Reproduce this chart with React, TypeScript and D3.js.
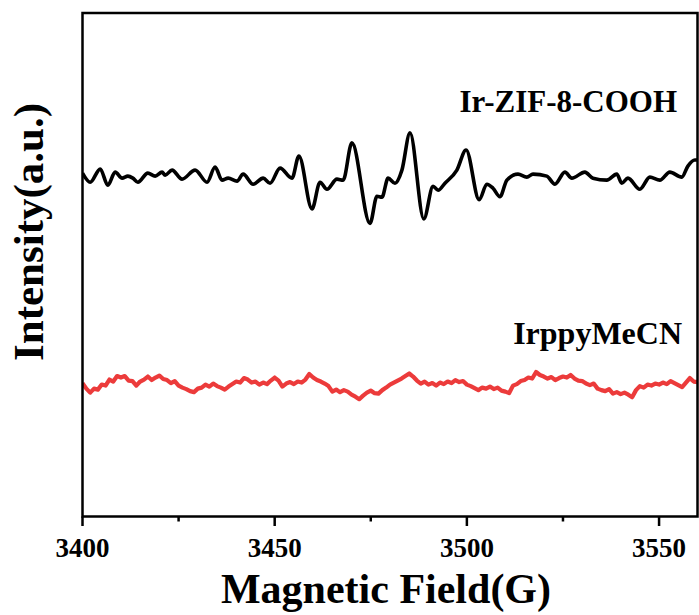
import React from "react";
import * as d3 from "d3";

const W = 699;
const H = 615;

// Ir-ZIF-8-COOH trace: [field (G), intensity (a.u.)]
const fieldBlack = [3400, 3402, 3404.6, 3406.6, 3408.5, 3410.3, 3411.8, 3413.1, 3414.4, 3417, 3418.9, 3420.7, 3421.5, 3423.3, 3425.9, 3429.3, 3432.4, 3434.5, 3436.3, 3437.9, 3440.2, 3441.8, 3444.4, 3447, 3448.8, 3451.4, 3454.5, 3456.3, 3459.7, 3461.8, 3463.6, 3466.2, 3467.8, 3470.1, 3474.8, 3476.6, 3477.9, 3479.5, 3481.3, 3483.1, 3485.2, 3488.8, 3491.2, 3492.5, 3494.3, 3497.4, 3499.8, 3503.2, 3505.2, 3506.8, 3508.6, 3510.4, 3513.3, 3515.6, 3517.2, 3520.8, 3522.9, 3525.5, 3527.3, 3530.7, 3532.8, 3536.4, 3539, 3540.3, 3541.9, 3545, 3547.6, 3550.2, 3552.8, 3555.9, 3557.5, 3559.3, 3560];
const intensityBlack = [68.2, 66.4, 69.0, 65.8, 68.4, 67.2, 67.6, 67.2, 66.4, 68.2, 67.6, 68.4, 67.8, 68.8, 67.0, 68.8, 66.4, 69.4, 66.8, 67.2, 66.6, 68.0, 66.0, 67.2, 66.2, 69.2, 67.2, 71.6, 61.1, 66.4, 65.0, 67.0, 66.8, 74.2, 58.2, 63.6, 63.4, 67.2, 66.2, 68.8, 76.2, 59.1, 65.6, 64.8, 66.2, 68.8, 72.8, 62.9, 66.0, 65.2, 63.5, 66.8, 68.0, 67.4, 68.0, 67.6, 66.0, 68.4, 67.2, 68.4, 67.2, 66.8, 68.0, 66.2, 67.2, 65.0, 67.4, 66.8, 68.4, 67.4, 69.6, 70.8, 70.8];

// IrppyMeCN trace: one value per gauss from 3400 G to 3560 G
const fieldRedStart = 3400;
const intensityRed = [
  26.5, 25.4, 24.6, 25.4, 25.2, 26.2, 26.0, 27.2, 26.8, 27.9,
  27.6, 27.9, 27.0, 26.9, 26.0, 26.8, 27.2, 27.8, 27.1, 27.6,
  28.0, 27.3, 27.1, 26.5, 26.9, 26.0, 25.6, 25.3, 24.9, 24.7,
  25.4, 25.6, 26.2, 25.8, 26.4, 25.9, 25.6, 25.2, 25.8, 26.3,
  26.8, 26.6, 27.5, 27.2, 26.6, 26.8, 26.2, 26.6, 26.3, 27.0,
  27.6, 27.0, 25.8, 26.4, 26.7, 26.3, 26.8, 26.6, 27.2, 28.3,
  27.6, 27.1, 26.8, 26.4, 25.9, 24.8, 25.2, 24.7, 25.1, 24.8,
  24.2, 23.8, 23.3, 24.0, 24.6, 25.0, 24.5, 24.4, 25.1, 25.6,
  26.2, 26.6, 27.0, 27.4, 27.9, 28.4, 27.8, 27.0, 26.4, 26.8,
  26.2, 26.5, 26.0, 26.6, 26.3, 26.8, 26.5, 27.1, 26.7, 26.9,
  26.2, 25.9, 25.5, 25.1, 25.6, 25.4, 25.8, 25.3, 25.6, 25.0,
  24.8, 24.5, 26.0, 26.3, 26.9, 27.1, 27.6, 27.4, 28.7, 28.1,
  27.8, 27.4, 27.7, 27.1, 27.5, 27.8, 27.6, 28.1, 27.4, 27.0,
  26.9, 26.4, 26.1, 26.4, 25.4, 25.1, 24.9, 25.3, 24.4, 24.7,
  24.3, 24.6, 24.2, 23.7, 25.1, 25.9, 25.6, 26.2, 26.0, 26.4,
  26.2, 26.6, 26.3, 26.9, 26.5, 26.1, 25.7, 26.6, 27.5, 26.8,
  26.7,
];

const majorTicks = [3400, 3450, 3500, 3550];
const minorTicks = [3425, 3475, 3525];
const labelBlack = "Ir-ZIF-8-COOH";
const labelRed = "IrppyMeCN";
const xTitle = "Magnetic Field(G)";
const yTitle = "Intensity(a.u.)";

const FONT = "'Liberation Serif', 'Times New Roman', serif";

export default function App() {
  const left = 82.5, right = 697.5, top = 13, bottom = 516.5;
  const x = d3.scaleLinear().domain([3400, 3560]).range([left, right]);
  const y = d3.scaleLinear().domain([0, 100]).range([bottom, top]);

  const blackData = fieldBlack.map((f, i) => [f, intensityBlack[i]] as [number, number]);
  const redData = intensityRed.map((v, i) => [fieldRedStart + i, v] as [number, number]);

  const blackLine = d3
    .line<[number, number]>()
    .x((d) => x(d[0]))
    .y((d) => y(d[1]))
    .curve(d3.curveMonotoneX)(blackData) as string;
  const redLine = d3
    .line<[number, number]>()
    .x((d) => x(d[0]))
    .y((d) => y(d[1]))(redData) as string;

  return (
    <div style={{ position: "fixed", left: 0, top: 0, width: W, height: H, background: "#fff" }}>
      <svg width={W} height={H} style={{ display: "block" }}>
        <defs>
          <clipPath id="plotclip">
            <rect x={left} y={top} width={right - left} height={bottom - top} />
          </clipPath>
        </defs>
        <g clipPath="url(#plotclip)">
          <path d={redLine} fill="none" stroke="#ec3b3b" strokeWidth={4.2} strokeLinejoin="round" />
          <path d={blackLine} fill="none" stroke="#000" strokeWidth={3.6} strokeLinejoin="round" />
        </g>
        <rect x={left} y={top} width={right - left} height={bottom - top} fill="none" stroke="#000" strokeWidth={2.5} />
        {majorTicks.map((t) => (
          <line key={"M" + t} x1={x(t)} x2={x(t)} y1={bottom} y2={bottom + 9.5} stroke="#000" strokeWidth={2.5} />
        ))}
        {minorTicks.map((t) => (
          <line key={"m" + t} x1={x(t)} x2={x(t)} y1={bottom} y2={bottom + 5} stroke="#000" strokeWidth={2.5} />
        ))}
        {majorTicks.map((t) => (
          <text key={"l" + t} x={x(t)} y={557} textAnchor="middle" fontFamily={FONT} fontWeight="bold" fontSize={27}>
            {t}
          </text>
        ))}
        <text x={386} y={603} textAnchor="middle" fontFamily={FONT} fontWeight="bold" fontSize={42}>
          {xTitle}
        </text>
        <text
          transform={`translate(43,232) rotate(-90)`}
          textAnchor="middle"
          fontFamily={FONT}
          fontWeight="bold"
          fontSize={43}
        >
          {yTitle}
        </text>
        <text x={677} y={112} textAnchor="end" fontFamily={FONT} fontWeight="bold" fontSize={31}>
          {labelBlack}
        </text>
        <text x={682} y={344} textAnchor="end" fontFamily={FONT} fontWeight="bold" fontSize={32}>
          {labelRed}
        </text>
      </svg>
    </div>
  );
}
